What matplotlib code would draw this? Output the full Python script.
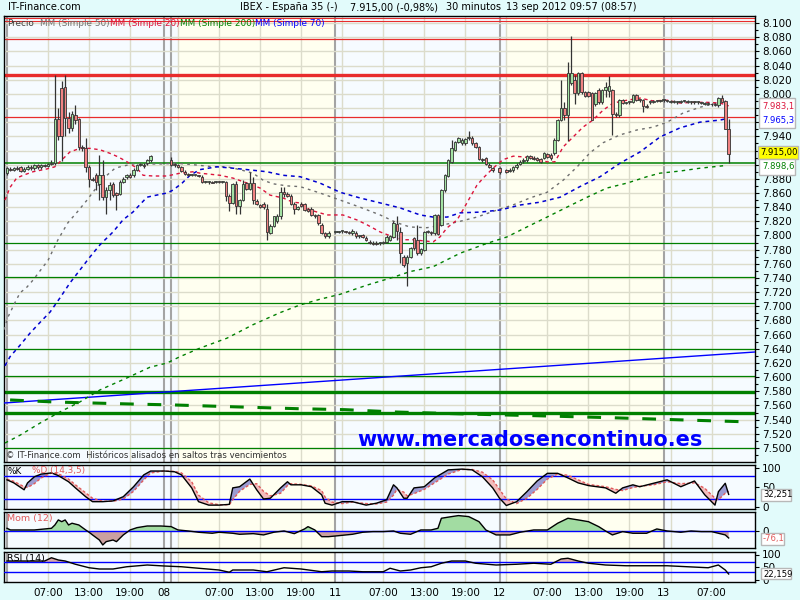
import numpy as np
import matplotlib
matplotlib.use('Agg')
import matplotlib.pyplot as plt
from matplotlib.patches import Rectangle
from matplotlib import font_manager

plt.rcParams['font.family'] = ['DejaVu Sans']

# narrow face for the small chart texts, if the system has it
_names = {f.name for f in font_manager.fontManager.ttflist}
if 'Liberation Sans Narrow' in _names:
    NARROW, NS = 'Liberation Sans Narrow', 1.0
else:
    NARROW, NS = 'DejaVu Sans', 0.8

W, H = 800, 600


def fx(px):
    return px / W


def fy(py):
    return 1 - py / H


# ---------------- price candles (30 min bars, index = bar number) ----------------
bars = list(range(0, 43)) + list(range(48, 95)) + list(range(96, 143)) + [144] + list(range(146, 212))

opens = [7888, 7894, 7893, 7895, 7896, 7891, 7894, 7897, 7895, 7899, 7896, 7899, 7898, 7901, 7903,
         7965, 8008, 8010, 7966, 7952, 7970, 7964, 7925, 7924, 7897, 7880, 7885, 7873, 7886, 7855,
         7864, 7873, 7860, 7859, 7876, 7882, 7886, 7885, 7893, 7900, 7900, 7902, 7906,
         7906, 7900, 7899, 7897, 7890, 7886, 7885, 7885, 7885, 7883, 7875, 7875, 7876, 7875, 7876,
         7875, 7875, 7856, 7846, 7872, 7841, 7850, 7874, 7866, 7874, 7849, 7843, 7845, 7838, 7804,
         7814, 7820, 7827, 7862, 7859, 7856, 7845, 7838, 7845, 7844, 7837, 7838, 7829, 7829, 7815,
         7803, 7799,
         7805, 7805, 7806, 7806, 7805, 7803, 7804, 7799, 7800, 7797, 7791, 7790, 7790, 7789, 7790,
         7791, 7794, 7798, 7816, 7805, 7770, 7761, 7770, 7796, 7794, 7775, 7780, 7805, 7804, 7803,
         7829, 7815, 7864, 7884, 7904, 7921, 7932, 7930, 7930, 7937, 7938, 7930, 7925, 7907, 7909,
         7900, 7895,
         7895,
         7892, 7891, 7892, 7896, 7901, 7905, 7906, 7912, 7910, 7909, 7908, 7910, 7915, 7914, 7916,
         7935, 7963, 7980, 7970, 8015, 8020, 8001, 8029, 8002, 8002, 8001, 7985, 8006, 7988, 8005,
         8004, 8005, 7972, 7970, 7991, 7987, 7988, 7989, 7998, 7991, 7991, 7983, 7988, 7989, 7990,
         7990, 7991, 7990, 7989, 7989, 7988, 7989, 7990, 7989, 7988, 7988, 7988, 7987, 7986, 7986,
         7985, 7985, 7984, 7994, 7990, 7951]
highs = [7897, 7897, 7897, 7898, 7898, 7896, 7899, 7900, 7901, 7901, 7901, 7901, 7903, 7906, 8027,
         7980, 8018, 8027, 7975, 7976, 7984, 7966, 7928, 7937, 7899, 7883, 7888, 7914, 7907, 7868,
         7876, 7875, 7862, 7878, 7882, 7887, 7888, 7895, 7901, 7903, 7902, 7908, 7914,
         7911, 7902, 7901, 7898, 7892, 7888, 7887, 7886, 7886, 7885, 7877, 7877, 7877, 7877, 7877,
         7877, 7877, 7858, 7874, 7877, 7852, 7878, 7876, 7890, 7882, 7851, 7845, 7847, 7845, 7816,
         7828, 7830, 7868, 7868, 7861, 7858, 7847, 7842, 7847, 7846, 7839, 7840, 7831, 7831, 7817,
         7805, 7806,
         7807, 7807, 7808, 7807, 7807, 7809, 7806, 7801, 7802, 7799, 7793, 7792, 7792, 7791, 7792,
         7800, 7801, 7820, 7827, 7812, 7772, 7772, 7784, 7798, 7815, 7783, 7807, 7808, 7806, 7831,
         7831, 7866, 7887, 7908, 7935, 7934, 7939, 7937, 7938, 7947, 7940, 7932, 7927, 7909, 7911,
         7902, 7897,
         7897,
         7894, 7895, 7898, 7902, 7906, 7909, 7914, 7914, 7912, 7911, 7910, 7918, 7917, 7916, 7937,
         7965, 8019, 7989, 8045, 8081, 8027, 8031, 8031, 8004, 8004, 8003, 8003, 8008, 8007, 8017,
         8025, 8007, 7974, 7993, 7993, 7989, 7990, 8000, 8000, 7993, 7993, 7985, 7992, 7991, 7992,
         7992, 7993, 7992, 7991, 7991, 7990, 7991, 7992, 7991, 7990, 7990, 7990, 7989, 7988, 7988,
         7987, 7987, 7996, 7999, 7992, 7965]
lows = [7886, 7891, 7891, 7892, 7889, 7889, 7892, 7892, 7893, 7894, 7894, 7896, 7896, 7899, 7900,
        7935, 7905, 7940, 7945, 7948, 7958, 7921, 7920, 7890, 7869, 7877, 7864, 7850, 7850, 7831,
        7850, 7854, 7836, 7857, 7874, 7880, 7881, 7883, 7891, 7898, 7895, 7900, 7904,
        7898, 7897, 7895, 7889, 7885, 7884, 7884, 7884, 7883, 7874, 7874, 7873, 7874, 7874, 7874,
        7874, 7849, 7834, 7844, 7831, 7831, 7848, 7864, 7864, 7845, 7843, 7839, 7838, 7794, 7802,
        7812, 7818, 7823, 7855, 7854, 7843, 7831, 7836, 7840, 7834, 7833, 7827, 7825, 7815, 7802,
        7797, 7797,
        7803, 7803, 7804, 7803, 7802, 7801, 7797, 7797, 7796, 7792, 7788, 7787, 7786, 7787, 7788,
        7789, 7792, 7796, 7794, 7761, 7756, 7728, 7768, 7780, 7773, 7773, 7778, 7803, 7801, 7801,
        7800, 7813, 7862, 7882, 7902, 7919, 7930, 7928, 7928, 7935, 7928, 7923, 7906, 7904, 7899,
        7895, 7890,
        7887,
        7888, 7889, 7890, 7894, 7899, 7903, 7904, 7908, 7906, 7905, 7902, 7908, 7909, 7907, 7914,
        7933, 7961, 7963, 7933, 8013, 7985, 7999, 8000, 7995, 7995, 7963, 7983, 7986, 7986, 7996,
        7996, 7942, 7968, 7968, 7985, 7985, 7986, 7987, 7990, 7989, 7975, 7980, 7986, 7987, 7988,
        7988, 7989, 7988, 7987, 7987, 7986, 7987, 7988, 7987, 7986, 7986, 7986, 7985, 7984, 7984,
        7983, 7983, 7982, 7988, 7950, 7902]
closes = [7895, 7893, 7895, 7894, 7891, 7894, 7897, 7895, 7899, 7896, 7899, 7898, 7901, 7903, 7965,
          7940, 7940, 7966, 7952, 7971, 7963, 7925, 7923, 7896, 7880, 7879, 7875, 7885, 7855, 7864,
          7871, 7857, 7857, 7876, 7880, 7885, 7883, 7893, 7900, 7901, 7898, 7906, 7912,
          7900, 7899, 7897, 7891, 7887, 7885, 7885, 7885, 7884, 7875, 7875, 7876, 7874, 7876, 7875,
          7875, 7856, 7846, 7872, 7841, 7850, 7873, 7866, 7874, 7850, 7844, 7840, 7840, 7805, 7814,
          7827, 7827, 7861, 7859, 7856, 7845, 7838, 7840, 7842, 7836, 7835, 7829, 7827, 7817, 7804,
          7799, 7804,
          7805, 7805, 7806, 7805, 7803, 7807, 7799, 7799, 7798, 7794, 7789, 7788, 7788, 7790, 7790,
          7798, 7799, 7817, 7806, 7775, 7758, 7770, 7782, 7782, 7775, 7781, 7805, 7806, 7803, 7829,
          7802, 7864, 7885, 7906, 7923, 7932, 7937, 7935, 7936, 7939, 7930, 7925, 7908, 7906, 7901,
          7897, 7892,
          7889,
          7890, 7893, 7896, 7900, 7904, 7907, 7912, 7910, 7908, 7907, 7904, 7916, 7911, 7909, 7935,
          7963, 7980, 7970, 8030, 8029, 8001, 8029, 8002, 7997, 7997, 7963, 8001, 7988, 8005, 8009,
          8011, 7972, 7970, 7991, 7987, 7987, 7988, 7998, 7992, 7991, 7983, 7982, 7990, 7989, 7990,
          7990, 7991, 7990, 7989, 7989, 7988, 7989, 7990, 7989, 7988, 7988, 7988, 7987, 7986, 7986,
          7985, 7984, 7994, 7989, 7951, 7915]

# ---------------- moving averages ----------------
ma20_x = [-0.6, 0.9, 2.8, 4.7, 7.6, 11.7, 14.0, 16.1, 18.4, 21.3, 24.3, 27.2, 30.1, 32.5, 35.1, 38.0,
          39.8, 42.7, 46.8, 50.6, 54.4, 56.4, 62.3, 66.1, 70.2, 74.0, 76.9, 80.7, 83.6, 85.7, 88.6,
          93.6, 98.2, 102.3, 105.3, 109.1, 112.9, 115.8, 118.7, 124.6, 126.6, 128.7, 131.6, 133.3,
          135.4, 137.4, 139.2, 142.1, 145.0, 148.0, 150.9, 153.8, 157.9, 160.2, 162.6, 165.5, 168.4,
          171.3, 174.3, 177.2, 181.3, 185.1, 188.9, 193.0, 196.8, 200.6, 204.7, 208.5, 211.0]
ma20_y = [7850, 7868, 7881, 7885, 7890, 7894, 7897, 7907, 7918, 7923, 7923, 7921, 7916, 7911, 7904,
          7895, 7885, 7884, 7884, 7888, 7890, 7888, 7885, 7881, 7874, 7867, 7857, 7853, 7847, 7846,
          7836, 7829, 7829, 7822, 7815, 7805, 7798, 7794, 7794, 7791, 7798, 7811, 7822, 7836, 7854,
          7871, 7881, 7895, 7907, 7912, 7911, 7909, 7904, 7904, 7925, 7939, 7953, 7963, 7977, 7987,
          7991, 7994, 7990, 7991, 7987, 7988, 7988, 7987, 7983]

ma50_x = [-0.9, 0.3, 2.3, 3.8, 5.8, 7.6, 12.0, 13.5, 14.9, 17.8, 20.5, 23.4, 25.1, 27.2, 29.2, 31.6,
          33.9, 36.8, 40.9, 44.7, 49.7, 54.4, 60.2, 64.3, 68.1, 71.9, 74.9, 77.8, 81.9, 85.7, 91.5,
          97.4, 103.2, 109.1, 114.0, 117.8, 122.8, 127.5, 131.6, 137.4, 143.3, 147.9, 152.9, 157.9,
          162.6, 166.7, 170.5, 174.3, 179.2, 184.2, 188.9, 193.0, 197.7, 202.6, 206.4, 208.5]
ma50_y = [7667, 7685, 7705, 7719, 7727, 7737, 7765, 7780, 7794, 7818, 7833, 7850, 7861, 7874, 7885,
          7895, 7898, 7901, 7901, 7901, 7902, 7900, 7897, 7897, 7893, 7888, 7878, 7873, 7870, 7869,
          7860, 7850, 7840, 7829, 7818, 7812, 7811, 7815, 7819, 7826, 7836, 7843, 7853, 7861, 7878,
          7897, 7917, 7931, 7942, 7949, 7953, 7960, 7973, 7981, 7986, 7987]

ma70_x = [-0.6, 0.9, 3.8, 6.7, 9.6, 12.6, 15.5, 18.4, 24.3, 27.2, 31.0, 33.9, 36.8, 40.9, 42.7, 46.8,
          48.5, 51.2, 53.5, 56.4, 61.4, 66.1, 70.2, 76.0, 80.7, 85.7, 91.5, 97.4, 103.2, 109.1, 114.9,
          120.8, 124.6, 128.7, 132.5, 138.3, 144.2, 150.0, 155.8, 161.7, 167.5, 173.4, 179.2, 185.1,
          190.9, 196.8, 202.6, 208.5, 210.5]
ma70_y = [7616, 7629, 7645, 7662, 7677, 7692, 7712, 7733, 7770, 7787, 7805, 7822, 7833, 7854, 7856,
          7860, 7864, 7874, 7885, 7893, 7897, 7895, 7893, 7890, 7885, 7883, 7874, 7861, 7853, 7846,
          7839, 7829, 7826, 7826, 7832, 7833, 7836, 7843, 7847, 7854, 7869, 7883, 7902, 7918, 7939,
          7952, 7960, 7963, 7965]

ma200_x = [-0.6, 3.8, 9.6, 15.5, 21.3, 27.2, 35.1, 41.8, 46.8, 50.6, 56.4, 64.3, 71.9, 79.8, 85.7,
           91.5, 97.4, 105.3, 112.9, 117.8, 124.6, 132.5, 140.4, 146.2, 152.0, 157.9, 163.7, 169.6,
           175.4, 181.3, 187.1, 190.9, 196.8, 202.6, 210.5]
ma200_y = [7507, 7518, 7535, 7551, 7565, 7582, 7599, 7614, 7620, 7629, 7641, 7655, 7674, 7691, 7702,
           7710, 7717, 7730, 7741, 7749, 7756, 7775, 7789, 7798, 7812, 7826, 7840, 7854, 7867, 7874,
           7883, 7888, 7891, 7895, 7899]

# long term lines in the lower part of the chart
trend_blue_x = [-0.88, 218.7]
trend_blue_y = [7563.5, 7635.5]
trend_green_x = [0.9, 14.0, 36.0, 49.1, 65.2, 84.8, 98.8, 113.5, 133.9, 154.4, 176.3, 198.2, 217.8]
trend_green_y = [7567.8, 7564.9, 7562.1, 7560.7, 7558.3, 7555.5, 7554.1, 7550.8, 7548.0, 7545.6,
                 7542.8, 7539.5, 7536.7]

# support / resistance levels
red_levels = [8106.5, 8103.5, 8077, 8027, 7968]
red_widths = [0.8, 0.8, 0.9, 2.4, 0.9]
green_levels = [7903, 7790, 7741, 7704, 7639.5, 7601, 7579, 7550, 7500]
green_widths = [1.1, 0.9, 0.9, 0.9, 0.9, 0.9, 2.4, 2.4, 0.9]

# ---------------- indicators ----------------
stoch_x = [0, 2, 5, 6, 8, 10, 13, 15, 18, 20, 23, 25, 28, 31, 34, 37, 40, 42, 46, 49, 51, 54, 56, 59,
           62, 65, 66, 68, 71, 73, 75, 77, 80, 82, 83, 86, 89, 92, 93, 95, 98, 101, 105, 108, 111,
           113, 114, 116, 117, 119, 122, 125, 129, 133, 136, 139, 142, 144, 146, 149, 152, 155, 158,
           161, 164, 167, 170, 175, 178, 180, 183, 185, 189, 193, 197, 201, 204, 207, 208, 210, 211]
stoch_k = [70, 62, 44, 62, 78, 85, 88, 81, 65, 49, 26, 13, 13, 15, 26, 52, 83, 93, 93, 91, 83, 49, 13,
           4, 4, 6, 49, 52, 72, 44, 20, 22, 49, 65, 57, 57, 52, 31, 9, 4, 13, 13, 4, 9, 18, 57, 49, 22,
           22, 49, 52, 75, 96, 98, 96, 78, 49, 22, 3, 13, 39, 67, 87, 87, 75, 62, 55, 49, 35, 49, 57,
           52, 61, 70, 52, 67, 31, 4, 39, 61, 32]
stoch_d = [72, 66, 52, 50, 60, 75, 88, 86, 72, 57, 36, 22, 14, 14, 20, 40, 70, 88, 93, 92, 88, 65, 30,
           10, 5, 5, 18, 40, 58, 60, 40, 28, 35, 55, 60, 58, 54, 42, 25, 12, 8, 12, 8, 7, 12, 30, 45,
           38, 28, 34, 45, 62, 85, 97, 97, 90, 70, 45, 20, 8, 22, 45, 72, 85, 82, 70, 58, 52, 45, 42,
           50, 53, 57, 65, 60, 62, 48, 22, 18, 35, 40]

mom_x = [0, 1, 8, 13, 14, 15, 16, 17, 18, 19, 21, 23, 24, 25, 27, 28, 29, 31, 32, 34, 36, 38, 41, 45,
         48, 50, 53, 56, 60, 62, 66, 68, 72, 75, 78, 81, 84, 87, 88, 90, 92, 94, 97, 101, 104, 107,
         110, 113, 115, 118, 121, 124, 126, 127, 130, 132, 135, 138, 140, 143, 147, 150, 154, 158,
         161, 164, 167, 170, 173, 175, 177, 180, 183, 187, 190, 193, 197, 200, 203, 206, 208, 210, 211]
mom_v = [29, 11, 11, 29, 65, 120, 101, 120, 65, 84, 65, 11, -14, -43, -98, -152, -116, -98, -116, -43,
         11, 36, 54, 54, 47, 11, 0, -14, -25, -14, -25, -36, -29, -43, -14, 0, -29, 22, 47, 11, -62,
         -62, -51, -36, -14, -7, -7, 0, -25, -36, 11, 11, 29, 138, 156, 167, 156, 101, 11, -43, -43,
         -14, 11, 11, 84, 138, 120, 101, 47, 0, -43, -7, -25, -25, 22, 0, -14, 0, -7, -7, -25, -43, -76]

rsi_x = [0, 11, 13, 15, 17, 20, 24, 27, 31, 35, 41, 46, 51, 56, 62, 65, 66, 68, 72, 76, 81, 86, 92, 95,
         100, 104, 110, 112, 115, 118, 121, 124, 127, 130, 134, 137, 143, 149, 154, 159, 162, 164,
         167, 170, 175, 181, 187, 193, 199, 205, 208, 210, 211]
rsi_v = [74, 74, 87, 78, 74, 61, 47, 42, 42, 51, 58, 54, 51, 45, 38, 29, 38, 38, 38, 31, 47, 42, 31,
         34, 34, 31, 31, 45, 34, 38, 47, 51, 65, 74, 74, 65, 58, 61, 65, 61, 82, 85, 74, 65, 58, 55,
         55, 55, 51, 47, 58, 38, 22]

# ---------------- time axis ----------------
tick_bars = [12, 24, 36, 46, 62, 74, 86, 96, 110, 122, 134, 144, 158, 170, 182, 192, 206]
tick_labels = ['07:00', '13:00', '19:00', '08', '07:00', '13:00', '19:00', '11', '07:00', '13:00',
               '19:00', '12', '07:00', '13:00', '19:00', '13', '07:00']
grid_light = [12, 24, 36, 50, 62, 74, 86, 98, 110, 122, 134, 146, 158, 170, 182, 194, 206]
grid_day = [0, 46, 48, 96, 144, 192]
yellow_spans = [(50, 96), (146, 192)]

GRID = '#dcdccb'
fig = plt.figure(figsize=(8, 6), dpi=100, facecolor='#e2fbfb')


def panel(top, bottom):
    ax = fig.add_axes([fx(4), fy(bottom), fx(755) - fx(4), (bottom - top) / H])
    ax.set_xlim(-0.88, 218.7)
    ax.set_facecolor('#f6fbff')
    for a, b in yellow_spans:
        ax.axvspan(a, b, color='#fffff0', lw=0, zorder=0)
    for x in grid_light:
        ax.axvline(x, color=GRID, lw=1, zorder=1)
    for x in grid_day:
        ax.axvline(x, color='#a4a4a4', lw=1.5, zorder=1)
    ax.yaxis.tick_right()
    ax.tick_params(axis='x', length=0, labelbottom=False)
    ax.tick_params(axis='y', labelsize=7.5, length=3, pad=2, width=0.8)
    for s in ax.spines.values():
        s.set_linewidth(1)
        s.set_color('black')
    return ax


# ---------------- main price panel ----------------
ax = panel(16, 462)
ax.set_ylim(7480.2, 8109.9)
yt = list(range(7500, 8101, 20))
hidden = {7980, 7960, 7920, 7900}   # covered by the last-value boxes
ax.set_yticks(yt)
ax.set_yticklabels(['' if v in hidden else f'{v // 1000}.{v % 1000:03d}' for v in yt])
ax.set_yticks(list(range(7490, 8101, 20)), minor=True)
ax.tick_params(axis='y', which='minor', length=2, width=0.8)
for v in yt:
    ax.axhline(v, color=GRID, lw=1, zorder=1)

for lv, lw in zip(red_levels, red_widths):
    ax.axhline(lv, color='#e82c2c', lw=lw, zorder=2)
for lv, lw in zip(green_levels, green_widths):
    ax.axhline(lv, color='#008000', lw=lw, zorder=2)

ax.plot(trend_blue_x, trend_blue_y, color='#0000ff', lw=1, zorder=3)
ax.plot(trend_green_x, trend_green_y, color='#008000', lw=2.2, dashes=(4.5, 4.5), zorder=3)

ax.plot(ma200_x, ma200_y, color='#008000', lw=1, dashes=(2.5, 3), zorder=3)
ax.plot(ma50_x, ma50_y, color='#6e6e6e', lw=1, dashes=(2, 3), zorder=3)
ax.plot(ma70_x, ma70_y, color='#0000d0', lw=1.1, dashes=(2.5, 2.5), zorder=3)
ax.plot(ma20_x, ma20_y, color='#dc143c', lw=1, dashes=(2.5, 2.5), zorder=3)

b = np.array(bars)
o = np.array(opens, dtype=float)
h = np.array(highs, dtype=float)
lo = np.array(lows, dtype=float)
c = np.array(closes, dtype=float)
up = c >= o
ax.vlines(b, lo, h, color='#333333', lw=0.9, zorder=4)
ax.bar(b, np.maximum(np.abs(c - o), 1.3), bottom=np.minimum(o, c), width=0.75,
       color=np.where(up, '#a3e2a3', '#f08282'), edgecolor='#333333', linewidth=0.6, zorder=5)

# legend line at the top of the chart
legend_parts = [('Precio', '#404040', 7), ('MM (Simple 50)', '#707070', 40),
                ('MM (Simple 20)', '#dc143c', 110), ('MM (Simple 200)', '#008000', 180),
                ('MM (Simple 70)', '#0000ff', 255)]
for txt, col, px in legend_parts:
    fig.text(fx(px), fy(23), txt, color=col, fontsize=8 * NS, family=NARROW, va='center')

fig.text(fx(6), fy(456), '© IT-Finance.com  Históricos alisados en saltos tras vencimientos',
         fontsize=7.6 * NS, family=NARROW, va='center', color='#303030')
fig.text(fx(530), fy(440), 'www.mercadosencontinuo.es', fontsize=15, fontweight='bold',
         color='#0000ff', ha='center', va='center')

# ---------------- stochastic ----------------
ax1 = panel(465, 509)
ax1.set_ylim(-6.1, 108.7)
ax1.set_yticks([100, 50, 0])
ax1.set_yticklabels(['100', '50', '0'])
sk = np.array(stoch_k, dtype=float)
sd = np.array(stoch_d, dtype=float)
ax1.fill_between(stoch_x, sk, sd, where=sk >= sd, interpolate=True, color='#9c9cd2', lw=0, zorder=2)
ax1.fill_between(stoch_x, sk, sd, where=sk < sd, interpolate=True, color='#f3bcbc', lw=0, zorder=2)
ax1.axhline(80, color='#0000ff', lw=1, zorder=3)
ax1.axhline(20, color='#0000ff', lw=1, zorder=3)
ax1.plot(stoch_x, sd, color='#e05a5a', lw=1, dashes=(2, 1.5), zorder=4)
ax1.plot(stoch_x, sk, color='black', lw=1, zorder=5)
fig.text(fx(7), fy(471), '%K', fontsize=8 * NS, family=NARROW, va='center', color='black')
fig.text(fx(32), fy(471), '%D (14,3,5)', fontsize=8 * NS, family=NARROW, va='center', color='#e05a5a')

# ---------------- momentum ----------------
ax2 = panel(512, 548)
ax2.set_ylim(-185, 206)
ax2.set_yticks([0])
ax2.set_yticklabels(['0'])
mv = np.array(mom_v, dtype=float)
ax2.fill_between(mom_x, mv, 0, where=mv >= 0, interpolate=True, color='#a2dca2', lw=0, zorder=2)
ax2.fill_between(mom_x, mv, 0, where=mv < 0, interpolate=True, color='#cba0a0', lw=0, zorder=2)
ax2.axhline(0, color='#0000ff', lw=1, zorder=3)
ax2.plot(mom_x, mv, color='black', lw=1, zorder=4)
fig.text(fx(7), fy(518), 'Mom (12)', fontsize=8.5 * NS, family=NARROW, va='center', color='#e05a5a')

# ---------------- RSI ----------------
ax3 = panel(552, 582)
ax3.set_ylim(-10, 110)
ax3.set_yticks([100, 50, 0])
ax3.set_yticklabels(['100', '50', '0'])
rv = np.array(rsi_v, dtype=float)
ax3.fill_between(rsi_x, rv, 70, where=rv >= 70, interpolate=True, color='#d8a8a8', lw=0, zorder=2)
ax3.axhline(70, color='#0000ff', lw=1, zorder=3)
ax3.axhline(30, color='#0000ff', lw=1, zorder=3)
ax3.plot(rsi_x, rv, color='black', lw=1, zorder=4)
ax3.set_xticks(tick_bars)
ax3.set_xticklabels(tick_labels)
ax3.tick_params(axis='x', labelbottom=True, labelsize=7.5, pad=4, length=0)
fig.text(fx(7), fy(558), 'RSI (14)', fontsize=8.5 * NS, family=NARROW, va='center', color='black')

# ---------------- header ----------------
fig.text(fx(8), fy(7), 'IT-Finance.com', fontsize=7, va='center')
fig.text(fx(240), fy(7), 'IBEX - España 35 (-)', fontsize=7, va='center')
fig.text(fx(350), fy(7), '7.915,00 (-0,98%)', fontsize=7, va='center')
fig.text(fx(446), fy(7), '30 minutos', fontsize=7, va='center')
fig.text(fx(506), fy(7), '13 sep 2012 09:57 (08:57)', fontsize=7, va='center')


# ---------------- last value boxes ----------------
def box(x0, y0, x1, y1, face):
    fig.add_artist(Rectangle((fx(x0), fy(y1)), (x1 - x0) / W, (y1 - y0) / H,
                             transform=fig.transFigure, facecolor=face, edgecolor='#b8b8b8',
                             lw=1, zorder=5))


def val(x, y, txt, col):
    fig.text(fx(x), fy(y), txt, fontsize=7.7 * NS, family=NARROW, color=col, va='center', zorder=6)


box(759, 98, 795, 128, 'white')
val(762, 107, '7.983,1', '#dc143c')
val(762, 120, '7.965,3', '#0000ff')
box(758, 146, 798, 159, '#ffff00')
val(760, 152.5, '7.915,00', 'black')
box(759, 159, 795, 175, 'white')
val(762, 167, '7.898,6', '#008000')
box(761, 489, 791, 501, 'white')
val(763, 495, '32,251', 'black')
box(761, 533, 784, 545, 'white')
val(763, 539, '-76,1', '#e05a5a')
box(761, 568, 791, 579, 'white')
val(763, 574, '22,159', 'black')

fig.savefig('out.png', dpi=100, facecolor=fig.get_facecolor())
